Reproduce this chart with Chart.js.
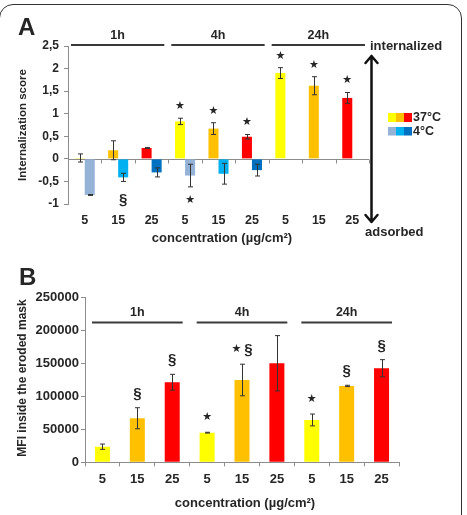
<!DOCTYPE html>
<html><head><meta charset="utf-8">
<script src="https://cdn.jsdelivr.net/npm/chart.js@4.4.0/dist/chart.umd.min.js"></script>
<style>
html,body{margin:0;padding:0;background:#fff;}
body{width:467px;height:515px;position:relative;overflow:hidden;}
#frame{position:absolute;left:-1px;top:4px;width:463px;height:560px;border:1.5px solid #333;border-radius:14px;box-sizing:border-box;}
#cA{position:absolute;left:0;top:0;}
#cB{position:absolute;left:0;top:250px;}
</style></head><body>
<div id="frame"></div>
<canvas id="cA" width="467" height="250"></canvas>
<canvas id="cB" width="467" height="265"></canvas>
<script>
// ---------- data ----------
const concLabels = ['5','15','25','5','15','25','5','15','25'];
const timeGroups = ['1h','4h','24h'];
const score37    = [0.02, 0.19, 0.24, 0.83, 0.67, 0.49, 1.90, 1.62, 1.35];
const score37Err = [0.09, 0.21, 0.01, 0.07, 0.13, 0.05, 0.12, 0.20, 0.12];
const score4     = [-0.80, -0.41, -0.30, -0.37, -0.33, -0.25, null, null, null];
const score4Err  = [0.01, 0.09, 0.10, 0.25, 0.23, 0.13, null, null, null];
const sig37      = ['', '', '', '★', '★', '★', '★', '★', '★'];
const sig4       = ['', '§', '', '★', '', '', '', '', ''];
const mfi        = [23700, 66900, 121600, 45000, 125000, 150400, 64300, 116000, 142900];
const mfiErr     = [4000, 16000, 12000, 600, 24000, 42000, 9000, 1000, 13000];
const sigMfi     = ['', '§', '§', '★', '★ §', '', '★', '§', '§'];
const scoreTickMin = -1, scoreTickMax = 2.5, scoreTickStep = 0.5;
const mfiTickMin = 0, mfiTickMax = 250000, mfiTickStep = 50000;

// ---------- styles ----------
const warm = ['#FFFF00', '#FFC000', '#FF0000'];
const cold = ['#95B3D7', '#00B0F0', '#0070C0'];
const TXT = '#262626';
const AX = '#8c8c8c';
const FONT = "'Liberation Sans', Arial, sans-serif";
const rep = (arr) => concLabels.map((_, i) => arr[i % 3]);

function drawSymbols(ctx, str, cx, cy) {
  if (!str) return;
  const toks = str.split(' ');
  const fonts = toks.map(t => t === '★' ? "11px 'DejaVu Sans'" : "bold 15px " + FONT);
  const ws = toks.map((t, k) => { ctx.font = fonts[k]; return ctx.measureText(t).width; });
  const gap = 3;
  let total = ws.reduce((a, b) => a + b, 0) + gap * (toks.length - 1);
  let x = cx - total / 2;
  ctx.fillStyle = TXT; ctx.textAlign = 'left'; ctx.textBaseline = 'middle';
  toks.forEach((t, k) => {
    ctx.font = fonts[k];
    ctx.fillText(t, x, cy + (t === '★' ? 0 : 1));
    x += ws[k] + gap;
  });
}

function drawErrors(chart, dsIndex, vals, errs) {
  const ctx = chart.ctx, y = chart.scales.y;
  const meta = chart.getDatasetMeta(dsIndex);
  ctx.save();
  ctx.strokeStyle = '#333'; ctx.lineWidth = 1;
  meta.data.forEach((bar, i) => {
    if (vals[i] == null || errs[i] == null) return;
    const yt = y.getPixelForValue(vals[i] + errs[i]);
    const yb = y.getPixelForValue(vals[i] - errs[i]);
    const x = Math.round(bar.x) + 0.5;
    ctx.beginPath();
    ctx.moveTo(x, yt); ctx.lineTo(x, yb);
    ctx.moveTo(x - 2.5, yt); ctx.lineTo(x + 2.5, yt);
    ctx.moveTo(x - 2.5, yb); ctx.lineTo(x + 2.5, yb);
    ctx.stroke();
  });
  ctx.restore();
}

function drawBrackets(chart, lineY, labelY, insetL, insetR) {
  const ctx = chart.ctx, a = chart.chartArea;
  const cw = (a.right - a.left) / concLabels.length;
  ctx.save();
  ctx.strokeStyle = '#3a3a3a'; ctx.lineWidth = 2;
  ctx.fillStyle = TXT; ctx.font = 'bold 12.5px ' + FONT;
  ctx.textAlign = 'center'; ctx.textBaseline = 'middle';
  timeGroups.forEach((g, k) => {
    const x0 = a.left + cw * 3 * k + insetL, x1 = a.left + cw * 3 * (k + 1) - insetR;
    ctx.beginPath(); ctx.moveTo(x0, lineY); ctx.lineTo(x1, lineY); ctx.stroke();
    ctx.fillText(g, (x0 + x1) / 2, labelY);
  });
  ctx.restore();
}

function rotText(ctx, txt, x, y, font) {
  ctx.save(); ctx.translate(x, y); ctx.rotate(-Math.PI / 2);
  ctx.font = font; ctx.fillStyle = TXT; ctx.textAlign = 'center'; ctx.textBaseline = 'middle';
  ctx.fillText(txt, 0, 0); ctx.restore();
}

// ---------- chart A ----------
const extrasA = {
  id: 'extrasA',
  beforeDatasetsDraw(chart) {
    const ctx = chart.ctx, a = chart.chartArea, y0 = Math.round(chart.scales.y.getPixelForValue(0)) + 0.5;
    const cw = (a.right - a.left) / concLabels.length;
    ctx.save(); ctx.strokeStyle = AX; ctx.lineWidth = 1;
    ctx.beginPath(); ctx.moveTo(a.left, y0); ctx.lineTo(a.right, y0);
    for (let i = 1; i <= concLabels.length; i++) {
      const x = Math.round(a.left + cw * i) + 0.5;
      ctx.moveTo(x, y0); ctx.lineTo(x, y0 + 4);
    }
    ctx.stroke(); ctx.restore();
  },
  afterDatasetsDraw(chart) {
    const ctx = chart.ctx, y = chart.scales.y;
    drawErrors(chart, 0, score37, score37Err);
    drawErrors(chart, 1, score4, score4Err);
    const m0 = chart.getDatasetMeta(0), m1 = chart.getDatasetMeta(1);
    sig37.forEach((s, i) => { if (s) drawSymbols(ctx, s, m0.data[i].x, y.getPixelForValue(score37[i] + score37Err[i]) - 12); });
    sig4.forEach((s, i) => { if (s) drawSymbols(ctx, s, m1.data[i].x, y.getPixelForValue(score4[i] - score4Err[i]) + (s === '★' ? 13 : 17)); });
    drawBrackets(chart, 45, 36, 3, 4);
    ctx.save();
    ctx.fillStyle = TXT;
    ctx.font = 'bold 24px ' + FONT; ctx.textAlign = 'left'; ctx.textBaseline = 'alphabetic';
    ctx.fillText('A', 18, 35);
    ctx.font = 'bold 13px ' + FONT; ctx.textBaseline = 'middle';
    ctx.fillText('internalized', 370, 46);
    ctx.fillText('adsorbed', 365, 232);
    ctx.textAlign = 'center';
    ctx.fillText('concentration (µg/cm²)', 222, 238);
    // arrow
    ctx.strokeStyle = '#111'; ctx.lineWidth = 2.5; ctx.lineCap = 'round'; ctx.lineJoin = 'round';
    ctx.beginPath();
    ctx.moveTo(371.5, 56); ctx.lineTo(371.5, 222);
    ctx.moveTo(365.5, 63); ctx.lineTo(371.5, 56); ctx.lineTo(377.5, 63);
    ctx.moveTo(365.5, 215); ctx.lineTo(371.5, 222); ctx.lineTo(377.5, 215);
    ctx.stroke();
    // legend
    warm.forEach((c, k) => { ctx.fillStyle = c; ctx.fillRect(388 + k * 8, 113, 8, 9); });
    cold.forEach((c, k) => { ctx.fillStyle = c; ctx.fillRect(388 + k * 8, 127, 8, 8.5); });
    ctx.fillStyle = TXT; ctx.font = 'bold 12.5px ' + FONT; ctx.textAlign = 'left';
    ctx.fillText('37°C', 413, 118);
    ctx.fillText('4°C', 413, 131.5);
    ctx.restore();
    rotText(ctx, 'Internalization score', 23, 125, 'bold 11.5px ' + FONT);
  }
};

new Chart(document.getElementById('cA'), {
  type: 'bar',
  data: {
    labels: concLabels,
    datasets: [
      { label: '37°C', data: score37, backgroundColor: rep(warm), categoryPercentage: 0.6, barPercentage: 1.0 },
      { label: '4°C', data: score4, backgroundColor: rep(cold), categoryPercentage: 0.6, barPercentage: 1.0 }
    ]
  },
  options: {
    responsive: false, animation: false, devicePixelRatio: 1,
    layout: { padding: { left: 0, top: 46, right: 98, bottom: 0 } },
    plugins: { legend: { display: false }, tooltip: { enabled: false } },
    scales: {
      x: {
        grid: { display: false, drawTicks: false }, border: { display: false },
        ticks: { color: TXT, font: { family: FONT, size: 12.5, weight: 'bold' }, padding: 9, maxRotation: 0 },
        afterFit: s => { s.height = 46; }
      },
      y: {
        min: scoreTickMin, max: scoreTickMax,
        grid: { drawOnChartArea: false, drawTicks: true, tickLength: 4, color: AX },
        border: { display: true, color: AX },
        ticks: { stepSize: scoreTickStep, color: TXT, padding: 5, font: { family: FONT, size: 12, weight: 'bold' },
                 callback: v => String(Math.round(v * 10) / 10).replace('.', ',') },
        afterFit: s => { s.width = 68; }
      }
    }
  },
  plugins: [extrasA]
});

// ---------- chart B ----------
const extrasB = {
  id: 'extrasB',
  afterDatasetsDraw(chart) {
    const ctx = chart.ctx, y = chart.scales.y;
    drawErrors(chart, 0, mfi, mfiErr);
    const m0 = chart.getDatasetMeta(0);
    sigMfi.forEach((s, i) => { if (s) drawSymbols(ctx, s, m0.data[i].x, y.getPixelForValue(mfi[i] + mfiErr[i]) - 15); });
    drawBrackets(chart, 72.5, 63, 7, 7);
    ctx.save();
    ctx.fillStyle = TXT;
    ctx.font = 'bold 24px ' + FONT; ctx.textAlign = 'left'; ctx.textBaseline = 'alphabetic';
    ctx.fillText('B', 19, 35);
    ctx.font = 'bold 13px ' + FONT; ctx.textAlign = 'center'; ctx.textBaseline = 'middle';
    ctx.fillText('concentration (µg/cm²)', 245, 253);
    ctx.restore();
    rotText(ctx, 'MFI inside the eroded mask', 23, 128, 'bold 12px ' + FONT);
  }
};

new Chart(document.getElementById('cB'), {
  type: 'bar',
  data: {
    labels: concLabels,
    datasets: [
      { label: 'MFI', data: mfi, backgroundColor: rep(warm), categoryPercentage: 1.0, barPercentage: 0.43 }
    ]
  },
  options: {
    responsive: false, animation: false, devicePixelRatio: 1,
    layout: { padding: { left: 0, top: 47.7, right: 68, bottom: 0 } },
    plugins: { legend: { display: false }, tooltip: { enabled: false } },
    scales: {
      x: {
        grid: { display: true, drawOnChartArea: false, drawTicks: true, tickLength: 4, color: AX, offset: true },
        border: { display: true, color: AX },
        ticks: { color: TXT, font: { family: FONT, size: 13, weight: 'bold' }, padding: 5, maxRotation: 0 },
        afterFit: s => { s.height = 52.7; }
      },
      y: {
        min: mfiTickMin, max: mfiTickMax,
        grid: { drawOnChartArea: false, drawTicks: true, tickLength: 4, color: AX },
        border: { display: true, color: AX },
        ticks: { stepSize: mfiTickStep, color: TXT, padding: 2, font: { family: FONT, size: 13, weight: 'bold' },
                 callback: v => String(Math.round(v)) },
        afterFit: s => { s.width = 85; }
      }
    }
  },
  plugins: [extrasB]
});
</script>
</body></html>
